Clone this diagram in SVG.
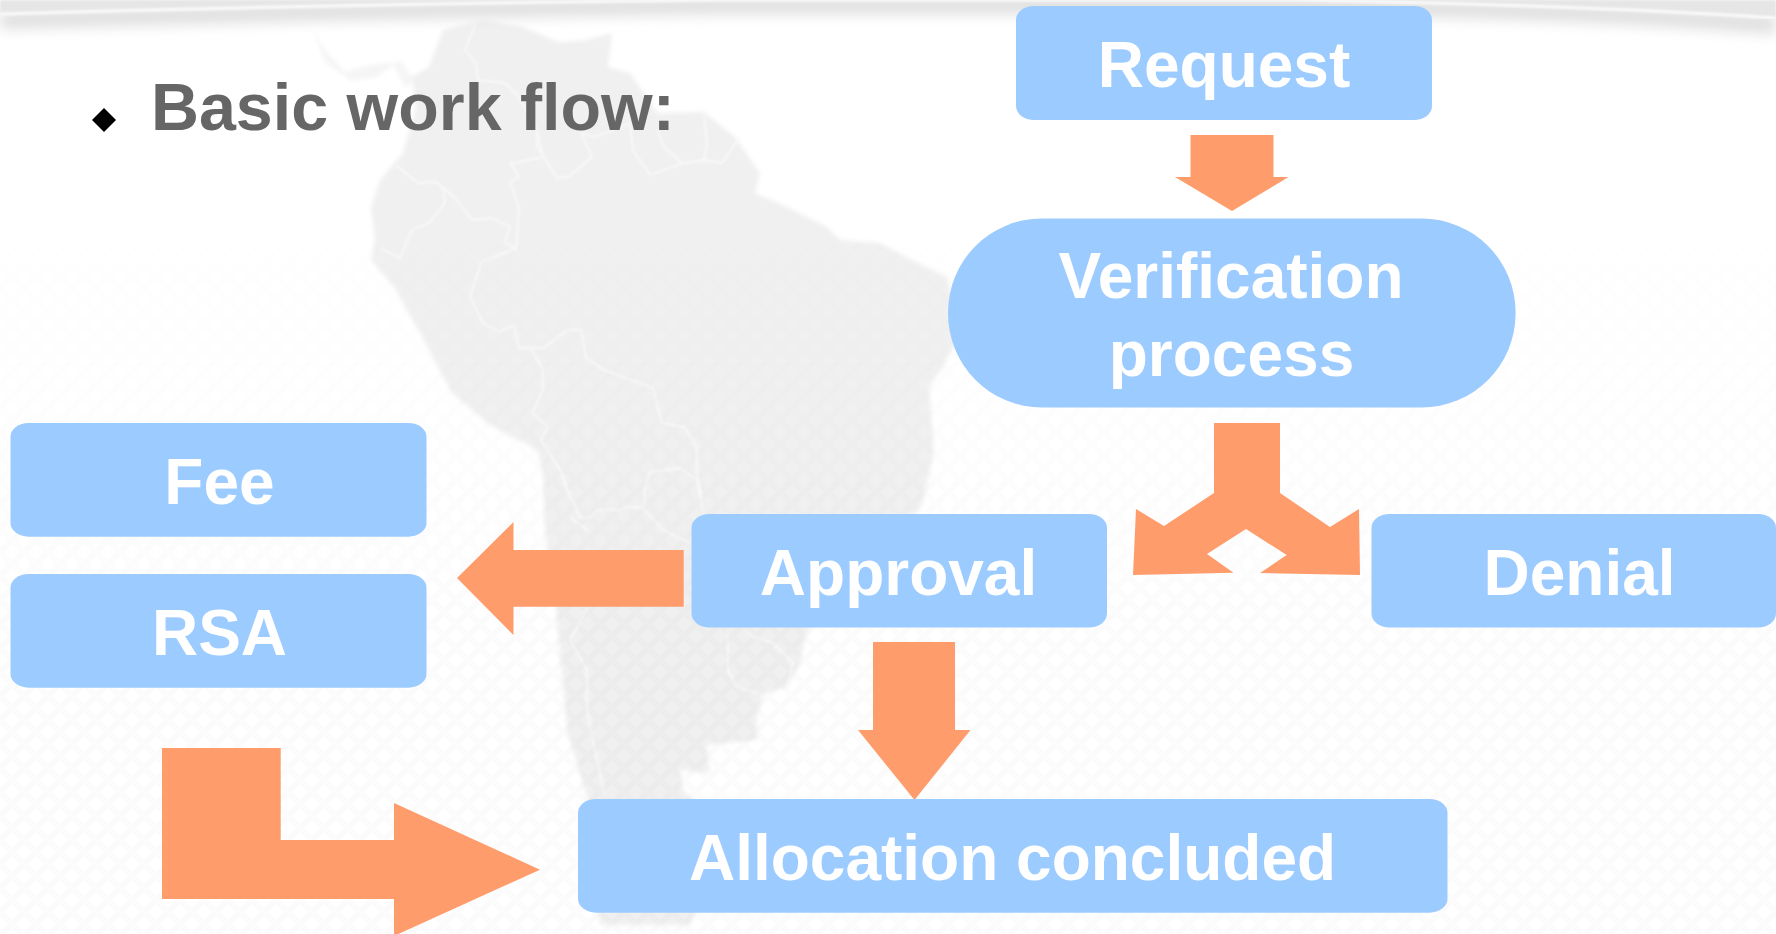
<svg xmlns="http://www.w3.org/2000/svg" width="1776" height="934" viewBox="0 0 1776 934">
<style>
.box{fill:#9ccbff}
.arrow{fill:#ff9c6b}
.label{font-family:"Liberation Sans",Arial,sans-serif;font-weight:700;font-size:64px;fill:#fff;text-anchor:middle}
.title{font-family:"Liberation Sans",Arial,sans-serif;font-weight:700;font-size:66.4px;fill:#666}
.border{fill:none;stroke:#f9f9f9;stroke-width:1.8;stroke-linejoin:round}
</style>
<defs>
<pattern id="hatch" width="24" height="24" patternUnits="userSpaceOnUse">
<path d="M-6 6L6-6M-6 30L30-6M18 30L30 18" stroke="#fbfbfb" stroke-width="6" fill="none"/>
<path d="M-6 18L6 30M-6-6L30 30M18-6L30 6" stroke="#fcfcfc" stroke-width="6" fill="none"/>
</pattern>
<linearGradient id="fade" x1="0" y1="0" x2="0" y2="1"><stop offset="0.2" stop-color="#000"/><stop offset="0.7" stop-color="#fff"/></linearGradient>
<mask id="fadeMask"><rect width="1776" height="934" fill="url(#fade)"/></mask>
<filter id="soft" x="-5%" y="-5%" width="110%" height="110%"><feGaussianBlur stdDeviation="2.2"/></filter>
<filter id="thin" x="-5%" y="-5%" width="110%" height="110%"><feGaussianBlur stdDeviation="0.8"/></filter>
<filter id="blur" x="-5%" y="-300%" width="110%" height="700%"><feGaussianBlur stdDeviation="7"/></filter>
</defs>

<g id="background">
<rect width="1776" height="934" fill="#fff"/>
<g filter="url(#soft)">
<path fill="#f5f5f5" d="M313 30L325 50L345 72L370 65L392 62L405 88L420 75L429 67L412 77L400 60L375 78L350 80L325 62Z"/>
<path fill="#f0f0f0" d="M429 67L443 30L483 20L523 27L559 42L586 40L612 33L608 67L630 73L657 113L704 112L735 137L760 173L755 193L787 207L827 227L840 240L880 243L912 260L947 277L962 330L943 367L929 387L934 450L923 503L880 560L807 630L800 663L787 687L763 693L757 717L757 740L707 745L710 773L680 770L683 790L693 800L712 870L690 925L600 925L587 797L567 730L557 617L545 530L543 473L537 450L487 423L452 393L420 333L394 287L371 260L375 240L371 207L380 180L403 153L416 107L412 77Z"/>
</g>
<g filter="url(#thin)">
<path class="border" d="M476 23L465 50L476 63L478 80L505 83L519 97L537 130L543 157L514 163L510 163L519 177L510 182L519 207L516 250"/>
<path class="border" d="M537 130L537 147L546 160L557 178L568 177L592 157L581 133L595 137L630 123L633 150L650 175L684 163L704 160L722 163L740 137M657 130L664 147L682 163M704 115L707 143L704 160"/>
<path class="border" d="M396 165L418 183L436 182L454 197L472 220L492 218L510 227L505 243L516 248L481 262L470 297L483 323L499 332L514 325L519 348L543 348L568 330L581 330L586 358L604 370L653 388L662 423L684 427L697 447L697 472L702 500"/>
<path class="border" d="M443 188L445 203L429 223L412 230L400 258L380 248"/>
<path class="border" d="M532 350L543 370L543 390L532 413L548 427L541 440L559 467L570 500"/>
<path class="border" d="M644 507L645 487L650 472L680 468L697 480L703 513M541 440L560 470L580 518L590 518L597 510L620 510L625 507L642 508L663 530L690 543"/>
<path class="border" d="M570 518L588 530M588 607L570 640L587 670L587 710L595 750L605 797M728 630L728 670L737 687L757 693M747 630L753 637L773 643L793 663L787 687"/>
</g>
<rect width="1776" height="934" fill="url(#hatch)" mask="url(#fadeMask)" style="mix-blend-mode:multiply"/>
<path d="M0 20Q340 10 720 5L1300 5Q1600 10 1776 25" fill="none" stroke="#dedede" stroke-width="18" filter="url(#blur)"/>
<path d="M0 0H1776V18Q1600 6 1300 0L720 0Q340 4 0 14Z" fill="#e6e6e6" filter="url(#thin)"/>
<path d="M0 14Q340 4 720 0L1300 0Q1600 6 1776 18" fill="none" stroke="#fafafa" stroke-width="3" filter="url(#thin)"/>
</g>

<g id="connectors">
<polygon class="arrow" points="1190.5,135 1273.5,135 1273.5,177 1288.5,177 1232,211 1175,177 1190.5,177"/>
<polygon class="arrow" points="1214,423 1280,423 1280,493 1330,527 1359,509 1360,575 1260,573 1286.6,555 1246,529 1207,554 1233.5,572.7 1133,575 1136,509 1164,526 1214,493"/>
<polygon class="arrow" points="683.7,550 513.5,550 513.5,522 457,578 513.5,635 513.5,606.7 683.7,606.7"/>
<polygon class="arrow" points="873,642 955,642 955,730 970.5,730 914.5,800 858,730 873,730"/>
<polygon class="arrow" points="162,748 280.7,748 280.7,840 394,840 394,803 540,869.7 394,936 394,899 162,899"/>
</g>

<g id="title">
<polygon points="104,108 116,120 104,132 92,120" fill="#000"/>
<text class="title" x="151" y="130">Basic work flow:</text>
</g>
<g id="request"><rect class="box" x="1016" y="6" width="416" height="114" rx="18" ry="14"/><text class="label" x="1224" y="87">Request</text></g>
<g id="verification"><rect class="box" x="948" y="218.5" width="567.6" height="189" rx="94" ry="94"/><text class="label" x="1231" y="298">Verification</text><text class="label" x="1231.5" y="376">process</text></g>
<g id="fee"><rect class="box" x="10.5" y="423" width="416" height="113.7" rx="18" ry="14"/><text class="label" x="219.5" y="504">Fee</text></g>
<g id="rsa"><rect class="box" x="10.5" y="574" width="416" height="113.7" rx="18" ry="14"/><text class="label" x="219.5" y="655">RSA</text></g>
<g id="approval"><rect class="box" x="691.5" y="514" width="415.5" height="113.5" rx="18" ry="14"/><text class="label" x="898.5" y="595">Approval</text></g>
<g id="denial"><rect class="box" x="1371.5" y="514" width="404.5" height="113.5" rx="18" ry="14"/><text class="label" x="1579.5" y="595">Denial</text></g>
<g id="allocation"><rect class="box" x="578" y="799" width="869.5" height="113.7" rx="18" ry="14"/><text class="label" x="1012.5" y="880">Allocation concluded</text></g>
</svg>
